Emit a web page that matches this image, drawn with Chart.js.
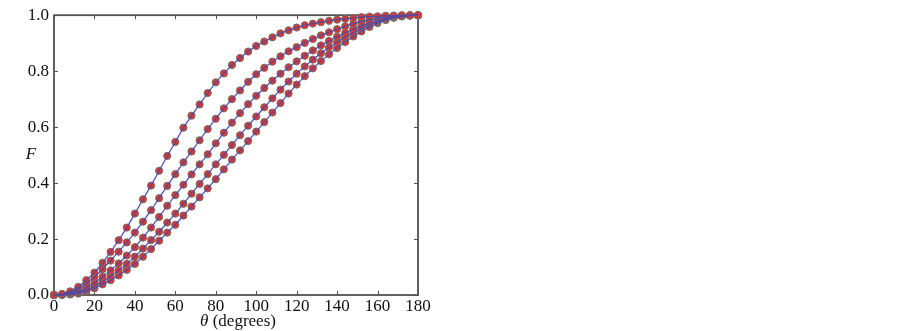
<!DOCTYPE html>
<html>
<head>
<meta charset="utf-8">
<script src="https://cdn.jsdelivr.net/npm/chart.js@4/dist/chart.umd.min.js"></script>
<style>
  body { margin: 0; background: #ffffff; }
  canvas { display: block; }
</style>
</head>
<body>
<canvas id="fChart" width="902" height="331"></canvas>
<script>
// Angle grid (degrees) where the curves were sampled
const theta = [0, 4, 8, 12, 16, 20, 24, 28, 32, 36, 40, 44, 48, 52, 56, 60, 64, 68, 72, 76, 80, 84, 88,
    92, 96, 100, 104, 108, 112, 116, 120, 124, 128, 132, 136, 140, 144, 148, 152, 156, 160, 164, 168, 172, 176, 180];

// F values, steepest curve first
const curve1 = [0, 0.004, 0.013, 0.029, 0.053, 0.080, 0.115, 0.154, 0.196, 0.241, 0.291, 0.342, 0.391, 0.444, 0.497, 0.547,
    0.598, 0.641, 0.681, 0.722, 0.760, 0.792, 0.822, 0.847, 0.870, 0.890, 0.906, 0.921, 0.935, 0.946, 0.956,
    0.964, 0.970, 0.975, 0.980, 0.984, 0.987, 0.990, 0.993, 0.995, 0.996, 0.998, 0.999, 1.0, 1.0, 1.0];
const curve2 = [0, 0.002, 0.008, 0.021, 0.041, 0.064, 0.092, 0.123, 0.155, 0.188, 0.223, 0.262, 0.303, 0.346, 0.390, 0.432,
    0.474, 0.513, 0.553, 0.593, 0.630, 0.667, 0.700, 0.731, 0.762, 0.789, 0.812, 0.834, 0.853, 0.871, 0.886,
    0.901, 0.915, 0.928, 0.939, 0.950, 0.960, 0.969, 0.977, 0.984, 0.989, 0.993, 0.996, 0.998, 0.999, 1.0];
const curve3 = [0, 0.001, 0.005, 0.013, 0.026, 0.043, 0.065, 0.088, 0.113, 0.141, 0.171, 0.205, 0.241, 0.279, 0.319, 0.357,
    0.394, 0.431, 0.467, 0.503, 0.542, 0.580, 0.616, 0.650, 0.682, 0.712, 0.740, 0.766, 0.791, 0.814, 0.835,
    0.855, 0.874, 0.892, 0.908, 0.923, 0.937, 0.950, 0.962, 0.972, 0.981, 0.988, 0.993, 0.997, 0.999, 1.0];
const curve4 = [0, 0.001, 0.003, 0.008, 0.018, 0.032, 0.047, 0.067, 0.088, 0.111, 0.137, 0.166, 0.196, 0.226, 0.259, 0.291,
    0.326, 0.362, 0.397, 0.432, 0.467, 0.501, 0.536, 0.571, 0.605, 0.638, 0.671, 0.703, 0.734, 0.763, 0.791,
    0.817, 0.841, 0.864, 0.885, 0.904, 0.922, 0.938, 0.952, 0.965, 0.976, 0.985, 0.992, 0.996, 0.999, 1.0];
const curve5 = [0, 0, 0.002, 0.005, 0.013, 0.024, 0.038, 0.053, 0.070, 0.090, 0.111, 0.137, 0.164, 0.194, 0.223, 0.251,
    0.284, 0.316, 0.349, 0.381, 0.414, 0.449, 0.484, 0.517, 0.550, 0.584, 0.618, 0.652, 0.686, 0.720, 0.752,
    0.782, 0.810, 0.836, 0.860, 0.883, 0.904, 0.924, 0.942, 0.958, 0.972, 0.983, 0.991, 0.996, 0.999, 1.0];

const curves = [curve1, curve2, curve3, curve4, curve5];

// Tick labels
const xTicks = [0, 20, 40, 60, 80, 100, 120, 140, 160, 180];
const yTicks = [0, 0.2, 0.4, 0.6, 0.8, 1.0];

const lineColor = '#4f4aa6';
const dotColor = '#dc3430';
const dotEdge = '#6f6f6f';
const frameColor = '#505050';
const serif = '"Liberation Serif", "Times New Roman", serif';

Chart.defaults.font.family = serif;
Chart.defaults.font.size = 17;
Chart.defaults.color = '#111111';

// Build datasets: red markers underneath, thin blue line drawn on top of them
const datasets = [];
curves.forEach(values => {
    const points = theta.map((t, i) => ({ x: t, y: values[i] }));
    datasets.push({
        data: points,
        showLine: false,
        pointRadius: 3.6,
        pointBorderWidth: 1,
        pointBackgroundColor: dotColor,
        pointBorderColor: dotEdge,
        clip: false,
        order: 2
    });
    datasets.push({
        data: points,
        borderColor: lineColor,
        borderWidth: 1.2,
        pointRadius: 0,
        tension: 0,
        clip: false,
        order: 1
    });
});

// Box around the plot with small inward ticks on all four sides
const framePlugin = {
    id: 'frame',
    beforeDatasetsDraw(chart) {
        const { ctx, chartArea: a, scales } = chart;
        ctx.save();
        ctx.strokeStyle = frameColor;
        ctx.lineWidth = 1;
        const len = 4;
        xTicks.forEach(v => {
            const px = Math.round(scales.x.getPixelForValue(v)) + 0.5;
            ctx.beginPath();
            ctx.moveTo(px, a.top); ctx.lineTo(px, a.top + len);
            ctx.moveTo(px, a.bottom); ctx.lineTo(px, a.bottom - len);
            ctx.stroke();
        });
        yTicks.forEach(v => {
            const py = Math.round(scales.y.getPixelForValue(v)) + 0.5;
            ctx.beginPath();
            ctx.moveTo(a.left, py); ctx.lineTo(a.left + len, py);
            ctx.moveTo(a.right, py); ctx.lineTo(a.right - len, py);
            ctx.stroke();
        });
        ctx.lineWidth = 1.8;
        ctx.strokeRect(a.left, a.top, a.right - a.left, a.bottom - a.top);
        ctx.restore();
    },
    afterDraw(chart) {
        const { ctx, chartArea: a } = chart;
        ctx.save();
        ctx.fillStyle = '#111111';
        ctx.textBaseline = 'alphabetic';
        ctx.textAlign = 'left';

        // x-axis title: italic theta followed by upright text
        ctx.font = 'italic 17px ' + serif;
        const thetaText = '\u03b8';
        const wTheta = ctx.measureText(thetaText).width;
        ctx.font = '17px ' + serif;
        const rest = ' (degrees)';
        const wRest = ctx.measureText(rest).width;
        const sx = (a.left + a.right) / 2 + 2 - (wTheta + wRest) / 2;
        ctx.font = 'italic 17px ' + serif;
        ctx.fillText(thetaText, sx, 326);
        ctx.font = '17px ' + serif;
        ctx.fillText(rest, sx + wTheta, 326);

        // y-axis title
        ctx.font = 'italic 17px ' + serif;
        ctx.textAlign = 'center';
        ctx.fillText('F', 31, 159);
        ctx.restore();
    }
};

const ctx = document.getElementById('fChart').getContext('2d');
const fChart = new Chart(ctx, {
    type: 'line',
    data: { datasets: datasets },
    options: {
        responsive: false,
        animation: false,
        layout: { padding: { left: 0, right: 484, top: 11, bottom: 0 } },
        plugins: {
            legend: { display: false },
            tooltip: { enabled: false }
        },
        scales: {
            x: {
                type: 'linear',
                min: 0,
                max: 180,
                afterBuildTicks: scale => { scale.ticks = xTicks.map(v => ({ value: v })); },
                afterFit: scale => { scale.height = 36; },
                grid: { display: false, drawTicks: false },
                border: { display: false },
                ticks: {
                    padding: 1,
                    color: '#111111',
                    font: { family: serif, size: 17 }
                }
            },
            y: {
                type: 'linear',
                min: 0,
                max: 1,
                afterBuildTicks: scale => { scale.ticks = yTicks.map(v => ({ value: v })); },
                afterFit: scale => { scale.width = 54; },
                grid: { display: false, drawTicks: false },
                border: { display: false },
                ticks: {
                    padding: 5,
                    color: '#111111',
                    font: { family: serif, size: 17 },
                    callback: value => value.toFixed(1)
                }
            }
        }
    },
    plugins: [framePlugin]
});
</script>
</body>
</html>
